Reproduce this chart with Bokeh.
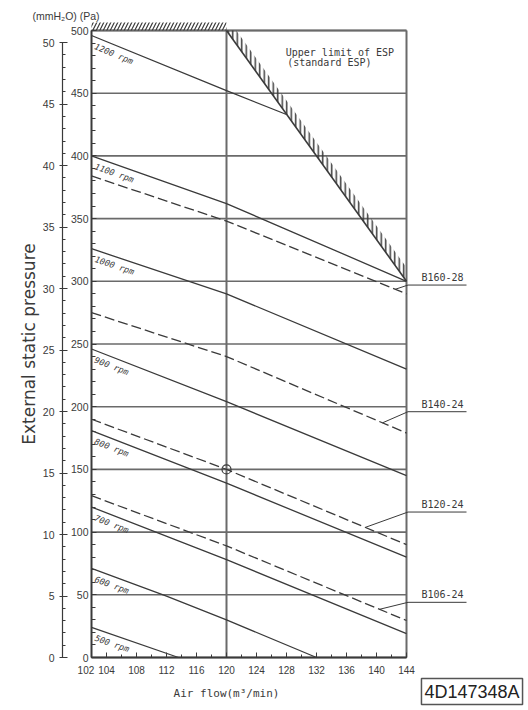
import math
import numpy as np
from bokeh.plotting import figure
from bokeh.models import Range1d, LinearAxis, FixedTicker, SingleIntervalTicker, Label
from bokeh.core.properties import value
from bokeh.embed import file_html
from bokeh.resources import INLINE

# ---------------- data ----------------
airflow_ticks = [102, 104, 108, 112, 116, 120, 124, 128, 132, 136, 140, 144]
airflow_minor = list(range(102, 145, 2))
pa_grid = list(range(0, 501, 50))

rpm_labels = ["1200 rpm", "1100 rpm", "1000 rpm", "900 rpm",
              "800 rpm", "700 rpm", "600 rpm", "500 rpm"]
rpm_x = [[102, 120, 128], [102, 120, 144], [102, 120, 144], [102, 120, 144],
         [102, 120, 144], [102, 120, 144], [102, 112, 120, 132], [102, 113.6]]
rpm_y = [[496, 452, 433], [400, 362, 300], [326, 290, 230], [246, 204, 145],
         [181, 139, 80], [120, 78, 19], [71, 49, 30, 0], [24, 0]]

models = ["B160-28", "B140-24", "B120-24", "B106-24"]
model_x = [[102, 120, 144], [102, 120, 144], [102, 120, 144], [102, 120, 144]]
model_y = [[384, 348, 290], [275, 240, 179], [190, 150, 90], [129, 89, 29.5]]
model_leader_x = [142.5, 140.8, 138.5, 140.4]
model_label_pa = [297, 196, 116, 44]

limit_x = [120, 144]
limit_y = [500, 300]
limit_text = ["Upper limit of ESP", "(standard ESP)"]

point_x = [120]
point_y = [150]
ref_airflow = 120

PA_PER_MMH2O = 9.80665
drawing_no = "4D147348A"

# ---------------- layout ----------------
W, H = 526, 708
PX_X = 7.5      # px per m3/min
PX_Y = 1.254    # px per Pa
FX, FY = 91, 657  # canvas position of (102, 0)
x0 = airflow_ticks[0]
x1 = airflow_ticks[-1]
xs_start = x0 - FX / PX_X
xs_end = xs_start + W / PX_X
ys_start = -(H - FY) / PX_Y
ys_end = FY / PX_Y

INK = "#3a3a3a"
GRID = "#6a6a6a"
MONO = "DejaVu Sans Mono"
SANS = "Liberation Sans"

p = figure(width=W, height=H, x_range=Range1d(xs_start, xs_end),
           y_range=Range1d(ys_start, ys_end),
           output_backend="svg", toolbar_location=None, title=None,
           x_axis_location=None, y_axis_location=None,
           min_border_left=0, min_border_right=0, min_border_top=0, min_border_bottom=0)
p.grid.visible = False
p.outline_line_color = None
p.background_fill_color = "white"
p.border_fill_color = "white"
p.extra_y_ranges = {"mm": Range1d(ys_start / PA_PER_MMH2O, ys_end / PA_PER_MMH2O)}

# x axis
xa = LinearAxis(ticker=FixedTicker(ticks=airflow_ticks, minor_ticks=airflow_minor),
                bounds=(x0, x1), fixed_location=0)
xa.major_label_overrides = {102: "102\u00a0\u00a0\u00a0\u00a0"}
xa.major_tick_in = 5; xa.major_tick_out = 0
xa.minor_tick_in = 3; xa.minor_tick_out = 0
xa.major_label_standoff = 7
xa.major_label_text_font = SANS
xa.major_label_text_font_size = "10px"
xa.major_label_text_color = INK
xa.axis_line_color = INK; xa.axis_line_width = 2
xa.major_tick_line_color = INK; xa.minor_tick_line_color = INK
p.add_layout(xa, "below")

# Pa axis
pa = LinearAxis(ticker=SingleIntervalTicker(interval=50, num_minor_ticks=5),
                bounds=(0, 500), fixed_location=x0)
pa.major_tick_in = 5; pa.major_tick_out = 0
pa.minor_tick_in = 4; pa.minor_tick_out = 0
pa.major_label_standoff = 3
pa.major_label_text_font = SANS
pa.major_label_text_font_size = "10.5px"
pa.major_label_text_color = INK
pa.axis_line_color = INK; pa.axis_line_width = 2
pa.major_tick_line_color = INK; pa.minor_tick_line_color = INK
p.add_layout(pa, "left")

# mmH2O axis
mm = LinearAxis(y_range_name="mm", ticker=SingleIntervalTicker(interval=5, num_minor_ticks=5),
                bounds=(0, 50), fixed_location=x0 - 29 / PX_X)
mm.major_tick_in = 5; mm.major_tick_out = 3
mm.minor_tick_in = 3; mm.minor_tick_out = 0
mm.major_label_standoff = 5
mm.major_label_text_font = SANS
mm.major_label_text_font_size = "10.5px"
mm.major_label_text_color = INK
mm.axis_line_color = INK; mm.axis_line_width = 1.2
mm.major_tick_line_color = INK; mm.minor_tick_line_color = INK
p.add_layout(mm, "left")

# axis titles
p.text(x=[ref_airflow], y=[-36 / PX_Y], text=["Air flow(m³/min)"], text_font=value(MONO),
       text_font_size="11px", text_color=INK, text_align="center", text_baseline="middle")
p.text(x=[x0 - 63 / PX_X], y=[250], text=["External static pressure"], angle=math.pi / 2,
       text_font=value("DejaVu Sans"), text_font_size="17px", text_color=INK,
       text_align="center", text_baseline="middle")
p.text(x=[x0 - 59 / PX_X], y=[500 + 15 / PX_Y], text=["(mmH₂O) (Pa)"], text_font=value(SANS),
       text_font_size="10.5px", text_color=INK, text_align="left", text_baseline="middle")

# grid lines (50 Pa) and frame
p.segment(x0=[x0] * len(pa_grid), x1=[x1] * len(pa_grid), y0=pa_grid, y1=pa_grid,
          line_color=GRID, line_width=1.6)
p.segment(x0=[x1, x0, ref_airflow], x1=[x1, x1, ref_airflow],
          y0=[0, 500, 0], y1=[500, 500, 500], line_color=GRID, line_width=2)

# hatched limits
hh = 8 / PX_Y
p.patch(x=[x0, limit_x[0], limit_x[0], x0], y=[500, 500, 500 + hh, 500 + hh],
        fill_alpha=0, line_color=None, hatch_pattern="/", hatch_color=INK,
        hatch_scale=7, hatch_weight=1.2)
dx_band = 9.8 / PX_X
dy_band = 13.7 / PX_Y
p.patch(x=[limit_x[0], limit_x[1], limit_x[1], limit_x[0] + dx_band, limit_x[0]],
        y=[limit_y[0], limit_y[1], limit_y[1] + dy_band, limit_y[0], limit_y[0]],
        fill_alpha=0, line_color=None, hatch_pattern="|", hatch_color=INK,
        hatch_scale=4.5, hatch_weight=1.5)
p.line(limit_x, limit_y, line_color=INK, line_width=1.6)

p.text(x=[limit_x[0] + 7.9, limit_x[0] + 8.1], y=[487, 478.5], text=limit_text,
       text_font=value(MONO), text_font_size="10px", text_color=INK,
       text_baseline="top", text_align="left")

# rpm curves
for lab, xs, ys in zip(rpm_labels, rpm_x, rpm_y):
    p.line(xs, ys, line_color=INK, line_width=1.3)
    lx = xs[0] + 0.7
    ly = float(np.interp(lx, xs, ys)) - 3
    ang = math.atan((ys[1] - ys[0]) * PX_Y / ((xs[1] - xs[0]) * PX_X))
    p.text(x=[lx], y=[ly], text=[lab], angle=ang, text_font=value(MONO),
           text_font_size="8.5px", text_font_style="italic", text_color=INK,
           text_baseline="top", text_align="left")

# model (dashed) curves with leaders
for name, xs, ys, lx, ly in zip(models, model_x, model_y, model_leader_x, model_label_pa):
    p.line(xs, ys, line_color=INK, line_width=1.3, line_dash="10 4")
    sy = float(np.interp(lx, xs, ys))
    p.line([lx, x1 + 0.2, x1 + 8.0], [sy, ly, ly], line_color=INK, line_width=1)
    p.text(x=[x1 + 2.0], y=[ly + 1.5], text=[name], text_font=value(MONO),
           text_font_size="10px", text_color=INK, text_baseline="bottom", text_align="left")

# selected point
p.scatter(point_x, point_y, size=9, marker="circle", fill_color=None,
          line_color=INK, line_width=1.2)

# drawing number box
p.add_layout(Label(x=x1 + 65.5 / PX_X, y=-34 / PX_Y, text=drawing_no,
                   text_font=SANS, text_font_size="18px", text_color="#222222",
                   text_baseline="middle", text_align="center",
                   border_line_color="#555555", border_line_width=1.5,
                   background_fill_color="white", padding=3))

open("out.html", "w").write(file_html(p, INLINE))
